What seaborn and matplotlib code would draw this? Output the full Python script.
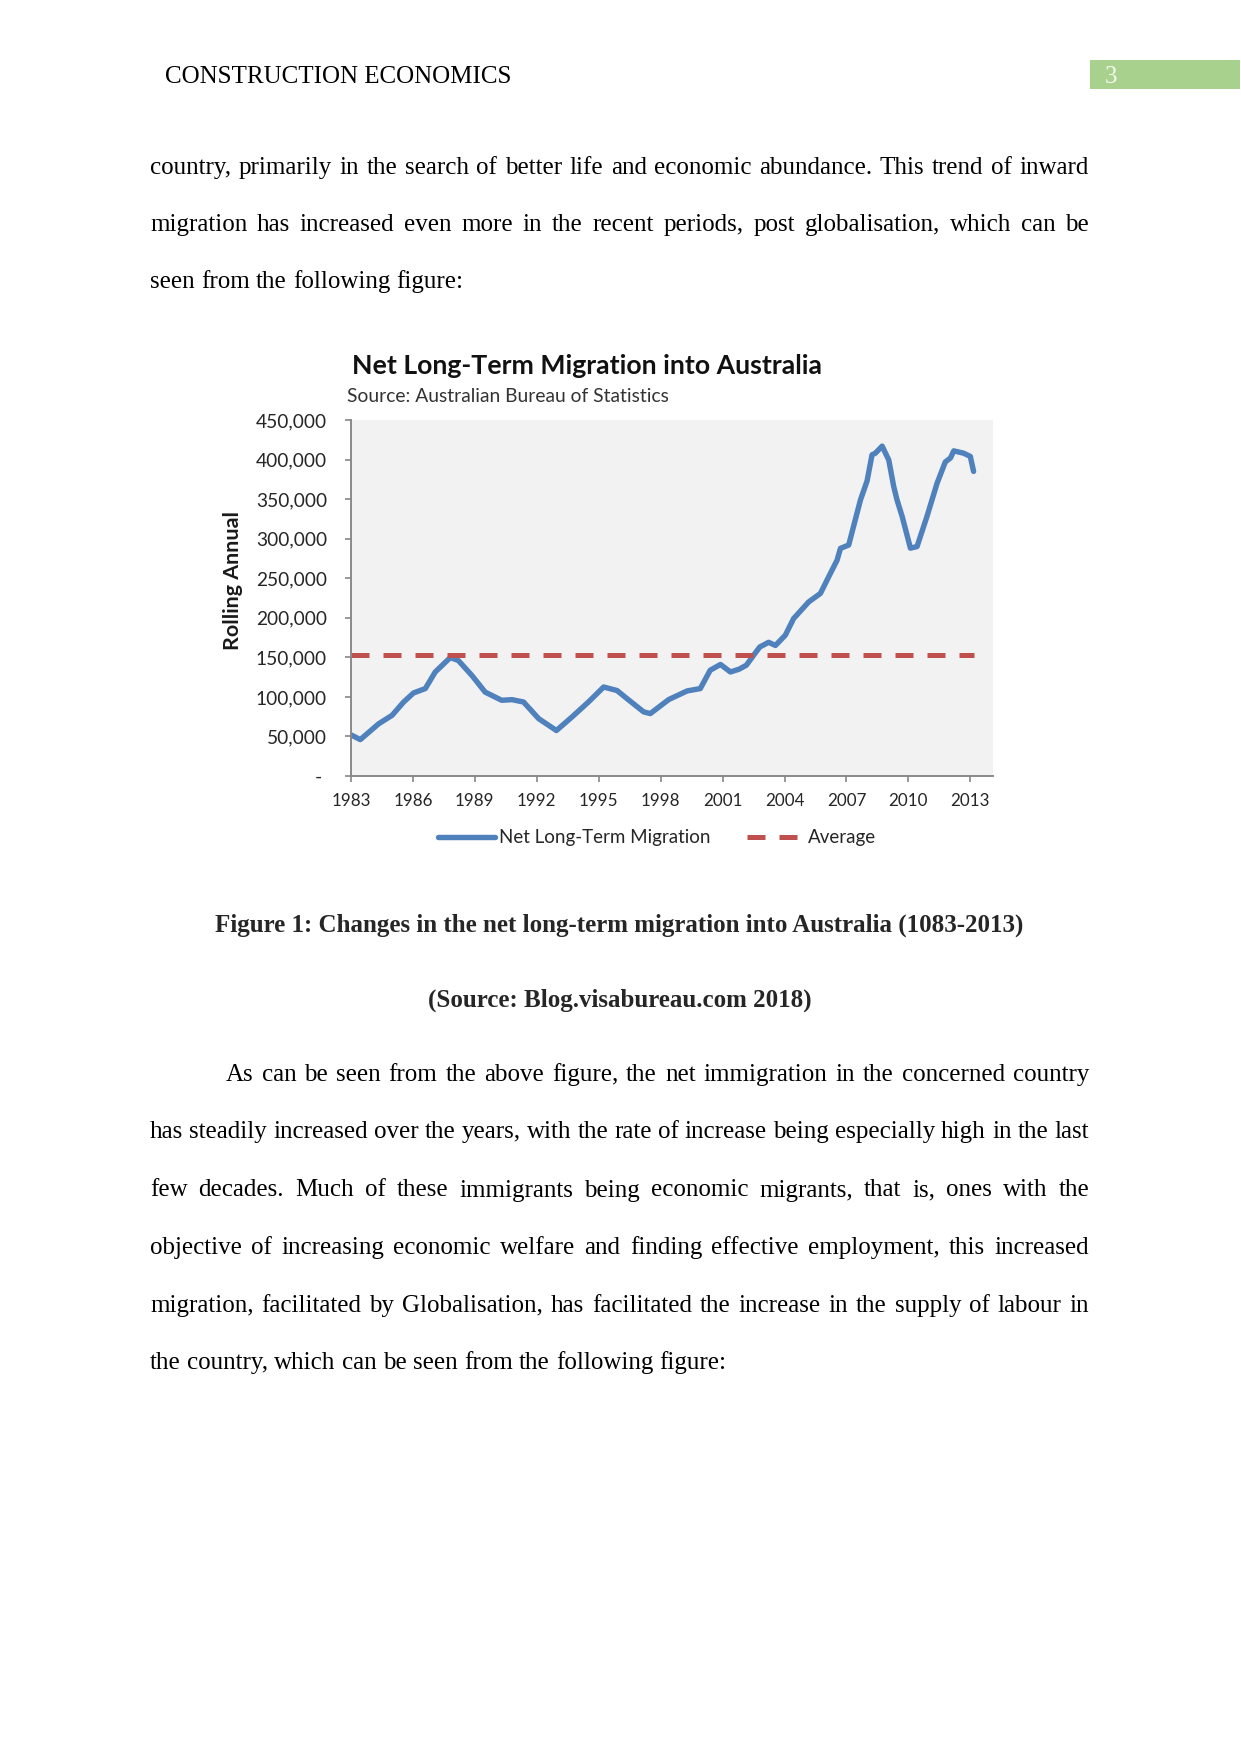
import matplotlib
matplotlib.use('Agg')
import matplotlib.pyplot as plt
import seaborn as sns
import pandas as pd
from matplotlib.patches import Rectangle
from matplotlib.ticker import FuncFormatter, MultipleLocator

# ---------------- data ----------------
years = [1983.0, 1983.45, 1984.34, 1984.99, 1985.55, 1986.03, 1986.6, 1987.08, 1987.81,
         1988.2, 1988.86, 1989.5, 1990.3, 1990.8, 1991.36, 1992.09, 1992.95, 1993.7,
         1994.5, 1995.24, 1995.89, 1996.37, 1997.18, 1997.5, 1998.39, 1999.28, 1999.92,
         2000.4, 2000.9, 2001.38, 2001.8, 2002.15, 2002.6, 2002.8, 2003.23, 2003.56, 2004.04,
         2004.44, 2005.17, 2005.74, 2006.14, 2006.55, 2006.71, 2007.11, 2007.68, 2008.0,
         2008.24, 2008.4, 2008.73, 2009.05, 2009.29, 2009.45, 2009.7, 2010.1, 2010.42,
         2010.9, 2011.39, 2011.79, 2012.04, 2012.2, 2012.68, 2013.0, 2013.16]
values_k = [52, 46, 66, 76.7, 93.5, 105, 110.5, 131.5, 149.7,
            146, 127, 106, 95.7, 96.5, 93.5, 72.5, 57.5, 74.5,
            93.5, 112.5, 108, 97.8, 81, 78.9, 96.6, 107.5, 110.5,
            133.7, 141, 131.5, 135, 140, 156, 163, 169, 165, 178,
            199, 220, 230.8, 251.8, 273, 287.7, 292, 349, 373,
            406, 408, 417, 399.5, 366, 349, 328, 288, 290,
            328, 370, 397, 402, 411, 408, 404, 385]
avg_years = [1983.0, 2013.16]
avg_values = [152600, 152600]
x_ticks = [1983, 1986, 1989, 1992, 1995, 1998, 2001, 2004, 2007, 2010, 2013]

title = "Net Long-Term Migration into Australia"
subtitle = "Source: Australian Bureau of Statistics"
ylabel = "Rolling Annual"
series_names = ["Net Long-Term Migration", "Average"]

header = "CONSTRUCTION ECONOMICS"
page_no = "3"
para1 = [
    ("country, primarily in the search of better life and economic abundance. This trend of inward", True),
    ("migration has increased even more in the recent periods, post globalisation, which can be", True),
    ("seen from the following figure:", False),
]
caption1 = "Figure 1: Changes in the net long-term migration into Australia (1083-2013)"
caption2 = "(Source: Blog.visabureau.com 2018)"
para2 = [
    ("As can be seen from the above figure, the net immigration in the concerned country", True),
    ("has steadily increased over the years, with the rate of increase being especially high in the last", True),
    ("few decades. Much of these immigrants being economic migrants, that is, ones with the", True),
    ("objective of increasing economic welfare and finding effective employment, this increased", True),
    ("migration, facilitated by Globalisation, has facilitated the increase in the supply of labour in", True),
    ("the country, which can be seen from the following figure:", False),
]

# ---------------- figure ----------------
W, H, DPI = 1241, 1754, 150
sns.set_theme(style="ticks")
plt.rcParams['font.family'] = ['Lato', 'DejaVu Sans']
SERIF = ['Liberation Serif', 'DejaVu Serif']

fig = plt.figure(figsize=(W / DPI, H / DPI), dpi=DPI)
fig.patch.set_facecolor('white')


def fx(px):
    return px / W


def fy(py):
    return 1 - py / H


ax = fig.add_axes([fx(351), fy(776), (993 - 351) / W, (776 - 420) / H])
ax.set_facecolor('#F2F2F2')

df = pd.DataFrame({'year': years, 'value': [v * 1000 for v in values_k]})
avg_df = pd.DataFrame({'year': avg_years, 'value': avg_values})
sns.lineplot(data=df, x='year', y='value', ax=ax, color='#4F81BD', lw=2.6,
             sort=False, label=series_names[0])
sns.lineplot(data=avg_df, x='year', y='value', ax=ax, color='#C0504D', lw=2.4,
             sort=False, label=series_names[1])
avg_line = ax.lines[-1]
avg_line.set_dashes((3.6, 2.8))
avg_line.set_dash_capstyle('butt')

ax.set_xlim(1983, 2014.1)
ax.set_ylim(0, 450000)
ax.set_xticks(x_ticks)
ax.yaxis.set_major_locator(MultipleLocator(50000))
ax.yaxis.set_major_formatter(FuncFormatter(lambda v, p: "- " if v == 0 else f"{int(v):,}"))
ax.set_xlabel("")
ax.set_ylabel(ylabel, fontsize=10.3, fontweight='bold', color='#1a1a1a', va='center')
ax.yaxis.set_label_coords((233 - 351) / 642, (776 - 580) / 356)
ax.grid(False)
sns.despine(ax=ax)
for s in ['left', 'bottom']:
    ax.spines[s].set_color('#868686')
    ax.spines[s].set_linewidth(0.9)
ax.tick_params(axis='both', length=2.9, width=0.8, color='#868686',
               labelcolor='#262626')
ax.tick_params(axis='y', pad=8.6, labelsize=9.2)
ax.tick_params(axis='x', pad=5.3, labelsize=8.2)

leg = ax.legend(loc='center', bbox_to_anchor=(fx(657), fy(838)), bbox_transform=fig.transFigure,
                ncol=2, frameon=False, fontsize=9, handlelength=3.0, handletextpad=0.25,
                columnspacing=1.9)
for t in leg.get_texts():
    t.set_color('#262626')

fig.text(fx(352), fy(366), title, fontsize=12.8, fontweight='bold', color='#111111',
         ha='left', va='center')
fig.text(fx(347), fy(396), subtitle, fontsize=9.25, color='#333333', ha='left', va='center')

# ---------------- page text ----------------
renderer = fig.canvas.get_renderer()
SPACE = 6.25


def text_line(s, x0, x1, base, justify, weight='normal'):
    words = s.split(' ')
    objs = [fig.text(0, fy(base), w, fontsize=12, family=SERIF, fontweight=weight,
                     color='black', ha='left', va='baseline') for w in words]
    widths = [o.get_window_extent(renderer).width for o in objs]
    if justify and len(words) > 1:
        gap = (x1 - x0 - sum(widths)) / (len(words) - 1)
    else:
        gap = SPACE
    x = x0
    for o, w in zip(objs, widths):
        o.set_x(fx(x))
        x += w + gap


fig.text(fx(165), fy(83), header, fontsize=12, family=SERIF, color='black',
         ha='left', va='baseline')
fig.patches.append(Rectangle((fx(1090), fy(89)), 150 / W, 29 / H, transform=fig.transFigure,
                             facecolor='#A9D18E', edgecolor='none'))
fig.text(fx(1111), fy(83), page_no, fontsize=12, family=SERIF, color='#F4FAEF',
         ha='center', va='baseline')

for (s, j), base in zip(para1, [173.7, 230.8, 287.9]):
    text_line(s, 150, 1089, base, j)

fig.text(fx(619.5), fy(932), caption1, fontsize=12, family=SERIF, fontweight='bold',
         ha='center', va='baseline')
fig.text(fx(619.5), fy(1007), caption2, fontsize=12, family=SERIF, fontweight='bold',
         ha='center', va='baseline')

bases2 = [1081.2, 1138.2, 1196.5, 1253.6, 1311.7, 1368.8]
for i, ((s, j), base) in enumerate(zip(para2, bases2)):
    text_line(s, 226 if i == 0 else 150, 1089, base, j)

fig.savefig('out.png', dpi=DPI, facecolor='white')
